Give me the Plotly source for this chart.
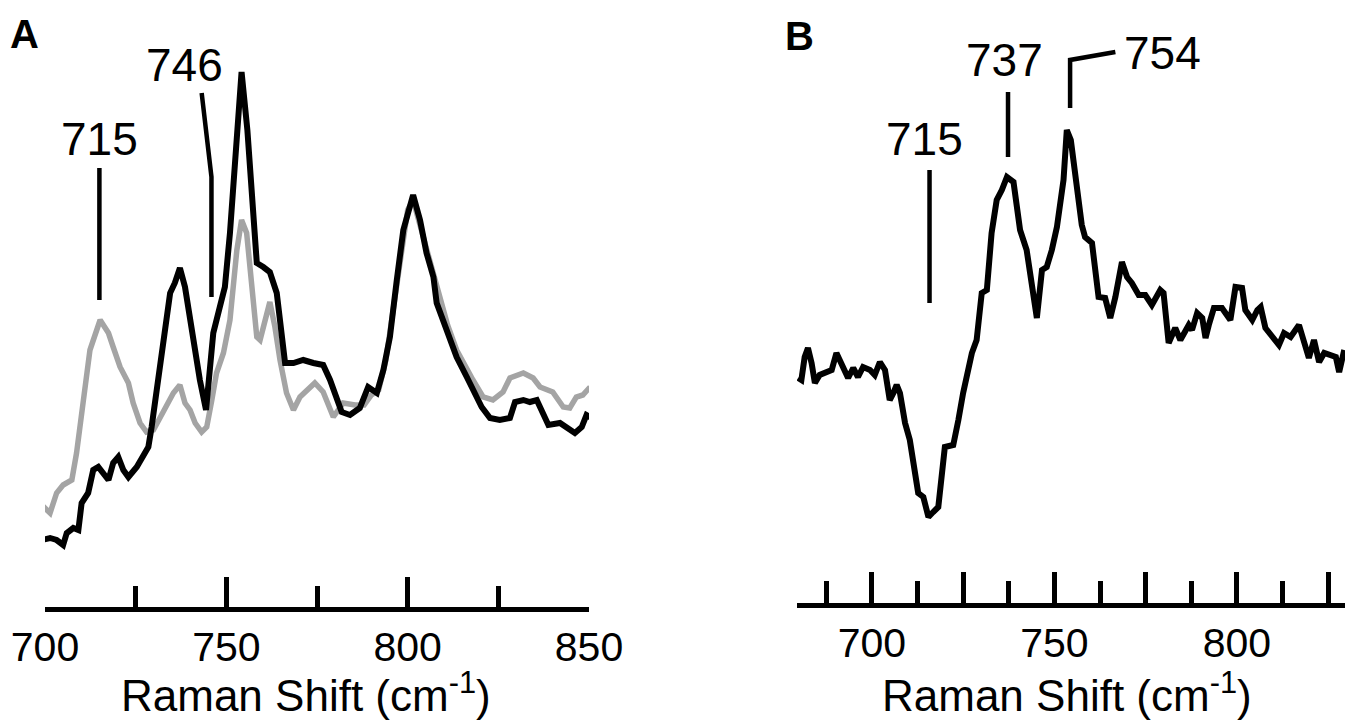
import plotly.graph_objects as go

# ---------------- Panel A data ----------------
a_gray_x = [699.1, 701.4, 703.2, 705.0, 707.4, 708.7, 710.6, 712.4, 715.2, 717.5, 718.8, 720.7,
            723.0, 724.3, 726.2, 728.0, 729.9, 731.7, 733.6, 735.4, 737.2, 738.6, 740.0, 741.4,
            743.2, 744.6, 746.0, 747.3, 749.2, 751.0, 752.9, 754.2, 755.6, 757.0, 758.4, 759.3,
            760.6, 762.0, 763.4, 764.8, 766.6, 768.5, 770.3, 772.2, 774.4, 776.7, 778.6, 779.5,
            782.2, 785.5, 788.0, 790.0, 792.0, 794.0, 796.0, 798.0, 800.0, 801.5, 803.0, 805.0,
            807.0, 809.0, 811.0, 813.5, 816.3, 818.0, 820.8, 823.5, 826.3, 828.2, 831.9, 834.6,
            836.5, 840.0, 842.9, 844.7, 846.5, 848.3, 850.3]
a_gray_y = [0.95, 0.87, 1.07, 1.15, 1.20, 1.47, 2.00, 2.50, 2.80, 2.67, 2.53, 2.33,
            2.17, 1.97, 1.77, 1.68, 1.70, 1.83, 1.97, 2.07, 2.15, 1.97, 1.90, 1.77,
            1.68, 1.73, 2.00, 2.27, 2.47, 2.80, 3.50, 3.80, 3.67, 3.13, 2.63, 2.60,
            2.80, 2.98, 2.73, 2.40, 2.07, 1.90, 2.03, 2.10, 2.17, 2.08, 1.90, 1.83,
            1.97, 1.95, 1.95, 2.05, 2.10, 2.40, 2.90, 3.45, 3.90, 4.00, 3.80, 3.50,
            3.28, 3.00, 2.75, 2.50, 2.30, 2.20, 2.03, 2.00, 2.08, 2.22, 2.27, 2.22,
            2.13, 2.08, 1.93, 1.92, 2.03, 2.05, 2.13]

a_black_x = [699.1, 701.4, 703.2, 705.0, 706.0, 707.8, 709.2, 710.1, 711.9, 713.3, 714.7, 716.1,
             717.5, 718.8, 720.2, 721.6, 723.0, 725.3, 727.1, 728.5, 729.4, 730.3, 731.7, 733.1,
             734.5, 735.8, 737.2, 738.6, 740.0, 741.4, 742.7, 744.4, 745.5, 746.4, 748.2, 749.6,
             751.0, 752.5, 754.2, 755.8, 757.0, 758.4, 760.2, 762.0, 763.9, 765.3, 766.2, 768.5,
             771.2, 774.0, 776.7, 778.6, 780.4, 781.8, 784.1, 786.8, 789.1, 791.5, 793.3, 795.1,
             797.0, 798.8, 801.5, 803.4, 805.2, 807.1, 808.0, 809.8, 811.7, 813.5, 816.3, 818.1,
             820.4, 822.7, 825.4, 828.2, 829.6, 831.9, 833.7, 835.6, 837.4, 838.8, 842.0, 843.8,
             846.1, 848.0, 849.3, 850.7]
a_black_y = [0.60, 0.62, 0.60, 0.55, 0.67, 0.72, 0.70, 0.97, 1.07, 1.30, 1.33, 1.27,
             1.20, 1.37, 1.43, 1.30, 1.23, 1.33, 1.43, 1.53, 1.73, 1.97, 2.27, 2.73,
             3.07, 3.17, 3.32, 3.13, 2.80, 2.43, 2.20, 1.90, 2.27, 2.67, 2.93, 3.13,
             3.67, 4.40, 5.28, 4.70, 4.00, 3.37, 3.33, 3.28, 3.07, 2.67, 2.37, 2.37,
             2.40, 2.37, 2.35, 2.20, 2.00, 1.88, 1.85, 1.92, 2.13, 2.07, 2.30, 2.63,
             3.20, 3.70, 4.05, 3.80, 3.47, 3.23, 2.97, 2.80, 2.63, 2.43, 2.23, 2.10,
             1.93, 1.82, 1.80, 1.82, 1.98, 2.00, 1.98, 2.00, 1.87, 1.75, 1.77, 1.73,
             1.67, 1.73, 1.85, 1.82]

# ---------------- Panel B data ----------------
b_x = [679.8, 680.7, 681.6, 682.5, 683.5, 684.4, 685.7, 687.6, 689.0, 690.3, 691.7, 693.5,
       694.9, 696.2, 697.6, 699.5, 700.8, 702.2, 703.6, 704.9, 705.9, 706.8, 707.7, 709.1,
       710.4, 711.8, 712.7, 714.1, 715.5, 716.8, 718.2, 720.0, 722.3, 723.7, 725.0, 727.4,
       728.7, 730.1, 731.5, 732.8, 734.2, 735.6, 737.0, 738.8, 740.6, 742.4, 743.8, 745.2,
       746.6, 747.9, 749.3, 750.7, 752.5, 753.4, 754.5, 756.0, 757.5, 758.4, 760.3, 762.1,
       763.9, 765.3, 766.7, 768.5, 769.9, 771.2, 773.1, 774.9, 776.7, 779.0, 779.9, 781.3,
       783.1, 784.5, 786.8, 787.7, 789.1, 790.5, 791.4, 792.3, 793.7, 795.9, 798.2, 799.6,
       801.4, 802.3, 804.2, 805.6, 806.5, 807.8, 809.7, 811.5, 812.9, 814.7, 817.0, 818.4,
       819.7, 821.1, 822.5, 823.9, 825.7, 827.1, 828.0, 829.4]
b_y = [2.22, 2.20, 2.43, 2.52, 2.37, 2.17, 2.25, 2.27, 2.30, 2.47, 2.37, 2.22,
       2.32, 2.23, 2.33, 2.30, 2.25, 2.38, 2.30, 2.00, 2.07, 2.15, 2.07, 1.77,
       1.60, 1.30, 1.07, 1.03, 0.83, 0.88, 0.93, 1.53, 1.55, 1.80, 2.07, 2.47,
       2.60, 3.07, 3.10, 3.67, 4.00, 4.10, 4.23, 4.18, 3.70, 3.50, 3.17, 2.82,
       3.30, 3.33, 3.50, 3.73, 4.20, 4.70, 4.60, 4.15, 3.75, 3.63, 3.57, 3.03,
       3.02, 2.82, 3.03, 3.38, 3.23, 3.17, 3.05, 3.05, 2.95, 3.10, 3.07, 2.57,
       2.72, 2.60, 2.75, 2.70, 2.87, 2.82, 2.62, 2.75, 2.92, 2.92, 2.80, 3.13,
       3.12, 2.90, 2.80, 2.90, 2.93, 2.72, 2.63, 2.55, 2.67, 2.63, 2.75, 2.57,
       2.42, 2.60, 2.38, 2.47, 2.45, 2.43, 2.28, 2.50]

# axis ticks / labels
a_major_ticks = [700, 750, 800, 850]
a_minor_ticks = [725, 775, 825]
b_major_ticks = [700, 725, 750, 775, 800, 825]
b_major_text = ["700", "", "750", "", "800", ""]
b_minor_ticks = [687.5, 712.5, 737.5, 762.5, 787.5, 812.5]

# peak labels: (text, label x, label y, leader path x list, leader path y list)
a_peaks = [("715", 715.0, 4.61, [715.0, 715.0], [4.32, 3.00]),
           ("746", 738.5, 5.35, [743.2, 745.9, 745.9], [5.07, 4.23, 3.03])]
b_peaks = [("715", 714.5, 4.61, [715.8, 715.8], [4.30, 2.97]),
           ("737", 736.2, 5.40, [737.3, 737.3], [5.08, 4.43]),
           ("754", 779.6, 5.47, [754.3, 754.3, 766.7], [4.92, 5.40, 5.48])]

FONT = "Liberation Sans, Arial, Helvetica, sans-serif"
W, H = 1345, 723
PLOT_H = 607

fig = go.Figure()
fig.add_trace(go.Scatter(x=a_gray_x, y=a_gray_y, mode="lines",
                         line=dict(color="#a4a4a4", width=5.5), xaxis="x", yaxis="y",
                         hoverinfo="skip"))
fig.add_trace(go.Scatter(x=a_black_x, y=a_black_y, mode="lines",
                         line=dict(color="#000000", width=6), xaxis="x", yaxis="y",
                         hoverinfo="skip"))
fig.add_trace(go.Scatter(x=b_x, y=b_y, mode="lines",
                         line=dict(color="#000000", width=6), xaxis="x2", yaxis="y2",
                         hoverinfo="skip"))

annotations = []
shapes = []
for txt, lx, ly, px, py in a_peaks:
    annotations.append(dict(text=txt, x=lx, y=ly, xref="x", yref="y", showarrow=False,
                            xanchor="center", yanchor="middle",
                            font=dict(size=46, family=FONT, color="black")))
    path = "M " + " L ".join(f"{u},{v}" for u, v in zip(px, py))
    shapes.append(dict(type="path", path=path, xref="x", yref="y",
                       line=dict(color="black", width=4.5)))
for txt, lx, ly, px, py in b_peaks:
    annotations.append(dict(text=txt, x=lx, y=ly, xref="x2", yref="y2", showarrow=False,
                            xanchor="center", yanchor="middle",
                            font=dict(size=46, family=FONT, color="black")))
    path = "M " + " L ".join(f"{u},{v}" for u, v in zip(px, py))
    shapes.append(dict(type="path", path=path, xref="x2", yref="y2",
                       line=dict(color="black", width=4.5)))

annotations += [
    dict(text="<b>A</b>", x=24.5 / W, y=1 - 34 / PLOT_H, xref="paper", yref="paper",
         xanchor="center", yanchor="middle",
         showarrow=False, font=dict(size=40, family=FONT, color="black")),
    dict(text="<b>B</b>", x=799 / W, y=1 - 35.5 / PLOT_H, xref="paper", yref="paper",
         xanchor="center", yanchor="middle",
         showarrow=False, font=dict(size=40, family=FONT, color="black")),
    dict(text="Raman Shift (cm<sup>-1</sup>)", x=306 / W, y=1 - 692 / PLOT_H,
         xref="paper", yref="paper", showarrow=False, xanchor="center", yanchor="middle",
         font=dict(size=44, family=FONT, color="black")),
    dict(text="Raman Shift (cm<sup>-1</sup>)", x=1067 / W, y=1 - 692 / PLOT_H,
         xref="paper", yref="paper", showarrow=False, xanchor="center", yanchor="middle",
         font=dict(size=44, family=FONT, color="black")),
]

axis_common = dict(showline=True, linecolor="black", linewidth=5, ticks="inside",
                   tickwidth=5, tickcolor="black", showgrid=False, zeroline=False,
                   tickfont=dict(size=41, family=FONT, color="black"), tickmode="array",
                   fixedrange=True, automargin=False)

fig.update_layout(
    width=W, height=H, margin=dict(l=0, r=0, t=0, b=H - PLOT_H, autoexpand=False),
    paper_bgcolor="white", plot_bgcolor="white", showlegend=False,
    xaxis=dict(domain=[45 / W, 589 / W], range=[700, 850], anchor="y",
               tickvals=a_major_ticks, ticklen=30,
               minor=dict(tickmode="array", tickvals=a_minor_ticks, ticks="inside",
                          ticklen=21, tickwidth=5, tickcolor="black"),
               **axis_common),
    yaxis=dict(domain=[0, 1], range=[-0.07, 6.0], visible=False, fixedrange=True,
               automargin=False),
    xaxis2=dict(domain=[797 / W, 1], range=[679.5, 829.6], anchor="y2",
                tickvals=b_major_ticks, ticktext=b_major_text, ticklen=31,
                minor=dict(tickmode="array", tickvals=b_minor_ticks, ticks="inside",
                           ticklen=22, tickwidth=5, tickcolor="black"),
                **axis_common),
    yaxis2=dict(domain=[4 / PLOT_H, 1], range=[-0.03, 6.0], visible=False, fixedrange=True,
                automargin=False),
    annotations=annotations, shapes=shapes,
)

fig.write_html("out.html", config={"displayModeBar": False})
